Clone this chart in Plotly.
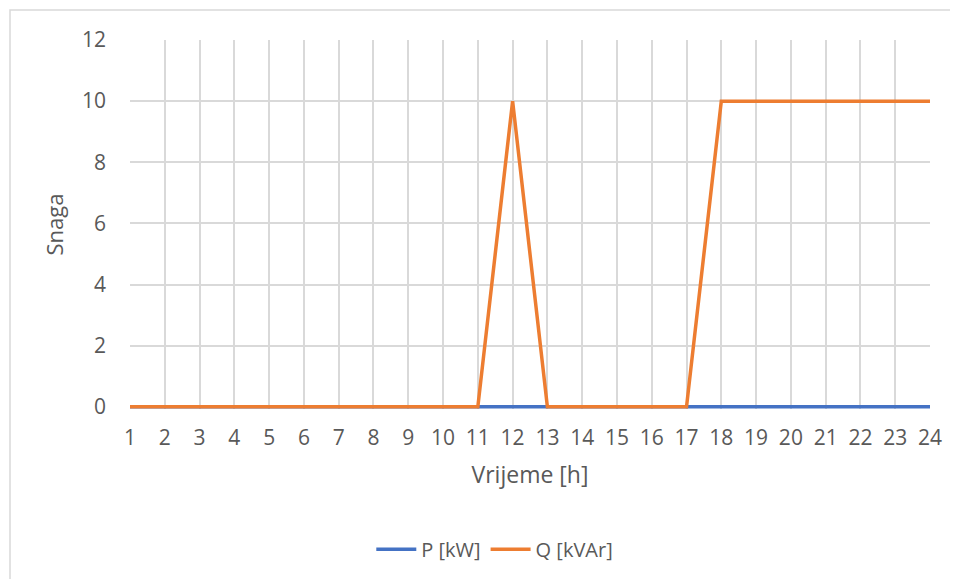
import plotly.graph_objects as go

hours = list(range(1, 25))
p_kw = [0] * 24
q_kvar = [0, 0, 0, 0, 0, 0, 0, 0, 0, 0, 0, 10, 0, 0, 0, 0, 0, 10, 10, 10, 10, 10, 10, 10]
y_ticks = [0, 2, 4, 6, 8, 10, 12]

FONT = "Open Sans"
GRAY = "#595959"

fig = go.Figure()
fig.add_trace(go.Scatter(x=hours, y=p_kw, mode="lines", name="P [kW]",
                         line=dict(color="#4472C4", width=3.5)))
fig.add_trace(go.Scatter(x=hours, y=q_kvar, mode="lines", name="Q [kVAr]",
                         line=dict(color="#ED7D31", width=3.5)))

# plot area: x 130..930, y(12)=40, y(0)=407 in screen px; page has 8px body offset
fig.update_layout(
    width=958, height=579,
    margin=dict(l=122, r=36, t=32, b=178),
    paper_bgcolor="white", plot_bgcolor="white",
    font=dict(family=FONT, color=GRAY, size=21),
    showlegend=True,
    legend=dict(orientation="h", x=0.456, xanchor="center", y=-0.38, yanchor="middle",
                font=dict(size=20, color=GRAY), itemwidth=40),
    shapes=[dict(type="rect", xref="paper", yref="paper", x0=-0.15, x1=1.2, y0=-1.0, y1=1.081,
                 line=dict(color="#d9d9d9", width=1.5), fillcolor="rgba(0,0,0,0)", layer="below")],
)
fig.update_xaxes(range=[1, 24], tickmode="array", tickvals=hours, ticktext=[str(h) for h in hours],
                 showgrid=True, gridcolor="#d9d9d9", gridwidth=1.5, zeroline=False,
                 showline=False, ticks="", ticklabelstandoff=14, tickfont=dict(size=21),
                 title=dict(text="Vrijeme [h]", font=dict(size=23, color=GRAY), standoff=16))
fig.update_yaxes(range=[-0.07, 12], tickmode="array", tickvals=y_ticks,
                 showgrid=True, gridcolor="#d9d9d9", gridwidth=1.5, zeroline=False,
                 showline=False, ticks="", ticklabelstandoff=23, tickfont=dict(size=21),
                 title=dict(text="Snaga", font=dict(size=22, color=GRAY), standoff=12))

fig.write_html("out.html")
